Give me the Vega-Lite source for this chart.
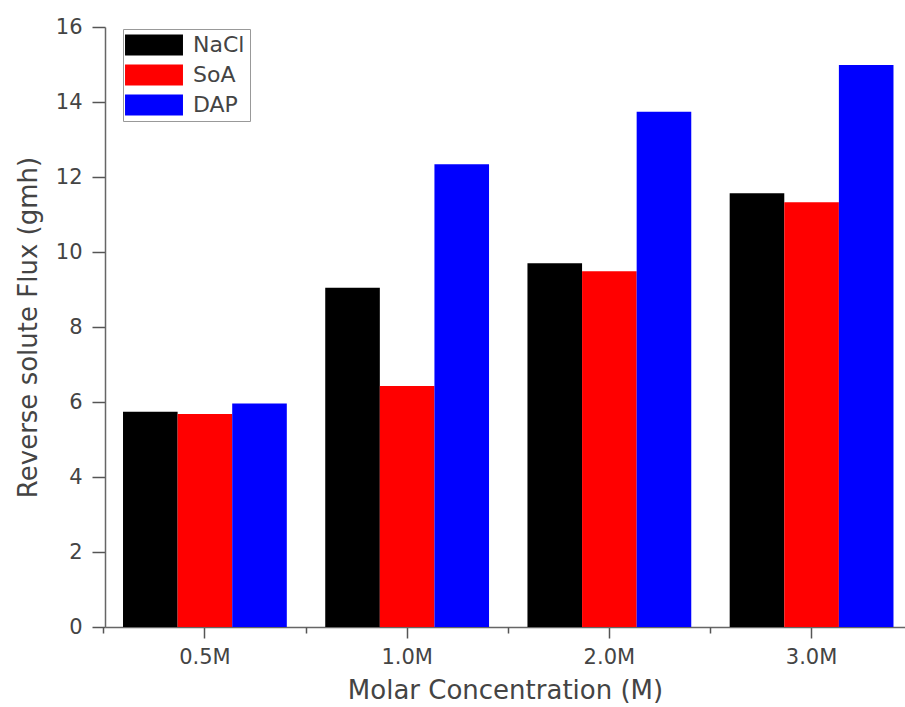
{
  "$schema": "https://vega.github.io/schema/vega-lite/v6.json",
  "autosize": "none",
  "padding": {"left": 105, "top": 27, "right": 0, "bottom": 80},
  "width": 800,
  "height": 600,
  "background": "white",
  "config": {
    "view": {"stroke": null},
    "font": "DejaVu Sans"
  },
  "data": {
    "values": [
      {"conc": "0.5M", "salt": "NaCl", "flux": 5.74},
      {"conc": "0.5M", "salt": "SoA", "flux": 5.68},
      {"conc": "0.5M", "salt": "DAP", "flux": 5.96},
      {"conc": "1.0M", "salt": "NaCl", "flux": 9.05},
      {"conc": "1.0M", "salt": "SoA", "flux": 6.43},
      {"conc": "1.0M", "salt": "DAP", "flux": 12.34},
      {"conc": "2.0M", "salt": "NaCl", "flux": 9.70},
      {"conc": "2.0M", "salt": "SoA", "flux": 9.49},
      {"conc": "2.0M", "salt": "DAP", "flux": 13.74},
      {"conc": "3.0M", "salt": "NaCl", "flux": 11.57},
      {"conc": "3.0M", "salt": "SoA", "flux": 11.33},
      {"conc": "3.0M", "salt": "DAP", "flux": 14.99}
    ]
  },
  "resolve": {"axis": {"x": "independent"}},
  "layer": [
    {
      "mark": {"type": "bar"},
      "encoding": {
        "x": {
          "field": "conc",
          "type": "nominal",
          "sort": ["0.5M", "1.0M", "2.0M", "3.0M"],
          "scale": {"paddingInner": 0.19, "paddingOuter": 0.073, "align": 0.61},
          "axis": {
            "orient": "bottom",
            "title": "Molar Concentration (M)",
            "titleFont": "DejaVu Sans",
            "titleFontSize": 26,
            "titleFontWeight": "normal",
            "titleColor": "#444",
            "titlePadding": 10,
            "labelAngle": 0,
            "labelFont": "DejaVu Sans",
            "labelFontSize": 21,
            "labelColor": "#444",
            "labelPadding": 8,
            "ticks": true,
            "tickSize": 11,
            "tickColor": "#555",
            "tickWidth": 1.5,
            "domainColor": "#666",
            "domainWidth": 1.5
          }
        },
        "xOffset": {
          "field": "salt",
          "type": "nominal",
          "sort": ["NaCl", "SoA", "DAP"],
          "scale": {"paddingInner": 0, "paddingOuter": 0}
        },
        "y": {
          "field": "flux",
          "type": "quantitative",
          "scale": {"domain": [0, 16], "nice": false},
          "axis": {
            "title": "Reverse solute Flux (gmh)",
            "titleFont": "DejaVu Sans",
            "titleFontSize": 26,
            "titleFontWeight": "normal",
            "titleColor": "#444",
            "titlePadding": 14,
            "values": [0, 1, 2, 3, 4, 5, 6, 7, 8, 9, 10, 11, 12, 13, 14, 15, 16],
            "labelExpr": "datum.value % 2 === 0 ? datum.label : ''",
            "labelOverlap": false,
            "labelFont": "DejaVu Sans",
            "labelFontSize": 21,
            "labelColor": "#444",
            "labelPadding": 10,
            "tickSize": {"condition": {"test": "datum.value % 2 === 0", "value": 13}, "value": 6},
            "tickColor": "#555",
            "tickWidth": 1.5,
            "domainColor": "#666",
            "domainWidth": 1.5,
            "grid": false
          }
        },
        "color": {
          "field": "salt",
          "type": "nominal",
          "sort": ["NaCl", "SoA", "DAP"],
          "scale": {"domain": ["NaCl", "SoA", "DAP"], "range": ["#000000", "#ff0000", "#0000ff"]},
          "legend": {
            "title": null,
            "orient": "none",
            "legendX": 18,
            "legendY": 2,
            "symbolType": "M-2.76,-1H2.76V1H-2.76Z",
            "symbolSize": 441,
            "symbolOffset": 15,
            "symbolStrokeWidth": 0,
            "symbolOpacity": 1,
            "labelOffset": 28,
            "labelFont": "DejaVu Sans",
            "labelFontSize": 22,
            "labelColor": "#444",
            "strokeColor": "#999",
            "padding": 5,
            "rowPadding": 8
          }
        }
      }
    },
    {
      "mark": {"type": "bar", "opacity": 0},
      "encoding": {
        "x": {
          "field": "conc",
          "type": "nominal",
          "sort": ["0.5M", "1.0M", "2.0M", "3.0M"],
          "axis": {
            "orient": "top",
            "offset": -600,
            "title": null,
            "labels": false,
            "domain": false,
            "bandPosition": -0.117,
            "tickSize": -6,
            "tickColor": "#555",
            "tickWidth": 1.5
          }
        },
        "y": {"field": "flux", "type": "quantitative", "stack": null}
      }
    }
  ]
}
